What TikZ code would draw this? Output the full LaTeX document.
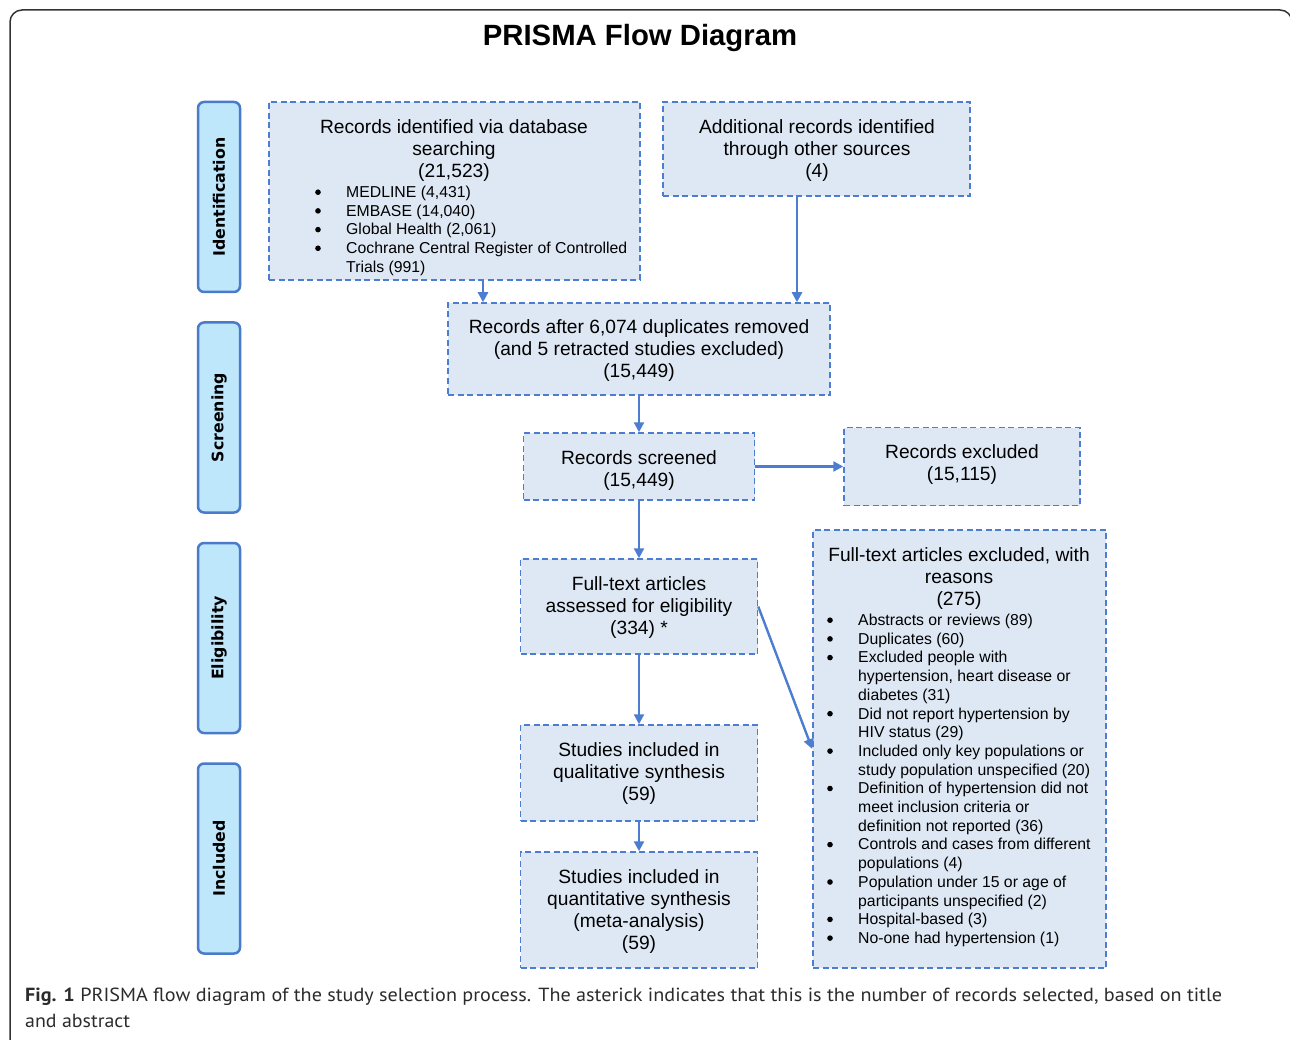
\documentclass[tikz,border=0pt]{standalone}
\usepackage{fontspec}
\usepackage{graphicx}
\setmainfont{Liberation Sans}
\newfontfamily\phasefont{DejaVu Sans}
\newfontfamily\capfont{PT Sans}
\usetikzlibrary{arrows.meta}
\definecolor{boxfill}{HTML}{DEE8F4}
\definecolor{boxdraw}{HTML}{4D7DD0}
\definecolor{phasefill}{HTML}{BEE7FB}
\definecolor{phasedraw}{HTML}{4A7BCB}
\definecolor{framecol}{HTML}{333333}
\definecolor{capcol}{HTML}{2B2B2B}
\newcommand{\mainsize}{\fontsize{19.2}{22}\selectfont}
\newcommand{\listsize}{\fontsize{15.8}{18.7}\selectfont}
\begin{document}
\begin{tikzpicture}[x=1pt,y=-1pt,
  flowbox/.style={draw=boxdraw, fill=boxfill, line width=1.5pt, dash pattern=on 6pt off 3.5pt, inner sep=0pt},
  phasebox/.style={draw=phasedraw, fill=phasefill, line width=2.5pt, rounded corners=6pt, inner sep=0pt, minimum width=42pt, minimum height=190pt},
  phaselabel/.style={rotate=90, font=\phasefont\bfseries\fontsize{15.8}{18}\selectfont, inner sep=0pt},
  maintext/.style={anchor=base, inner sep=0pt, font=\mainsize},
  listtext/.style={anchor=base west, inner sep=0pt, font=\listsize},
  bulletdot/.style={fill=black},
  arr/.style={draw=boxdraw, line width=2.4pt, -{Triangle[length=10pt,width=10pt]}}]
\useasboundingbox (0,0) rectangle (1290,1040);
% outer frame
\draw[framecol, line width=1.5pt, rounded corners=12pt] (10,1043) -- (10,10) -- (1292,10) -- (1292,1043);
% title
\node[anchor=base, inner sep=0pt, font=\bfseries\fontsize{29.3}{32}\selectfont] (title) at (640,46) {PRISMA Flow Diagram};

% phase boxes
\node[phasebox] (p1) at (219,197) {};
\node[phaselabel] (p1t) at (p1) {Identification};
\node[phasebox] (p2) at (219,417.5) {};
\node[phaselabel] (p2t) at (p2) {Screening};
\node[phasebox] (p3) at (219,638) {};
\node[phaselabel] (p3t) at (p3) {Eligibility};
\node[phasebox] (p4) at (219,858.5) {};
\node[phaselabel] (p4t) at (p4) {Included};

% flow boxes
\node[flowbox, minimum width=371pt, minimum height=178pt] (b1) at (454.5,191) {};
\node[flowbox, minimum width=307pt, minimum height=94pt] (b2) at (816.5,149) {};
\node[flowbox, minimum width=382pt, minimum height=92pt] (b3) at (639,349) {};
\node[flowbox, minimum width=231pt, minimum height=67pt] (b4) at (639,466.5) {};
\node[flowbox, minimum width=236pt, minimum height=78pt] (b5) at (962,466.5) {};
\node[flowbox, minimum width=237pt, minimum height=95pt] (b6) at (639,606.5) {};
\node[flowbox, minimum width=237pt, minimum height=96pt] (b7) at (639,773) {};
\node[flowbox, minimum width=237pt, minimum height=116pt] (b8) at (639,910) {};
\node[flowbox, minimum width=293pt, minimum height=438pt] (b9) at (959.5,749) {};

% texts
\node[maintext] (t1) at (454,133.5) {\begin{tabular}[t]{@{}c@{}}Records identified via database\\searching\\(21,523)\end{tabular}};
\node[listtext] (l1) at (346,197.5) {\begin{tabular}[t]{@{}l@{}}
MEDLINE (4,431)\\
EMBASE (14,040)\\
Global Health (2,061)\\
Cochrane Central Register of Controlled\\
Trials (991)\end{tabular}};
\foreach \k in {0,1,2,3} \fill[bulletdot] (318,{197.5-5.3+18.7*\k}) circle (2.8pt);
\node[maintext] (t2) at (817,133.5) {\begin{tabular}[t]{@{}c@{}}Additional records identified\\through other sources\\(4)\end{tabular}};
\node[maintext] (t3) at (639,333.5) {\begin{tabular}[t]{@{}c@{}}Records after 6,074 duplicates removed\\(and 5 retracted studies excluded)\\(15,449)\end{tabular}};
\node[maintext] (t4) at (639,464.5) {\begin{tabular}[t]{@{}c@{}}Records screened\\(15,449)\end{tabular}};
\node[maintext] (t5) at (962,458.5) {\begin{tabular}[t]{@{}c@{}}Records excluded\\(15,115)\end{tabular}};
\node[maintext] (t6) at (639,590.5) {\begin{tabular}[t]{@{}c@{}}Full-text articles\\assessed for eligibility\\(334) *\end{tabular}};
\node[maintext] (t7) at (639,756.5) {\begin{tabular}[t]{@{}c@{}}Studies included in\\qualitative synthesis\\(59)\end{tabular}};
\node[maintext] (t8) at (639,883.5) {\begin{tabular}[t]{@{}c@{}}Studies included in\\quantitative synthesis\\(meta-analysis)\\(59)\end{tabular}};
\node[maintext] (t9) at (959,561.5) {\begin{tabular}[t]{@{}c@{}}Full-text articles excluded, with\\reasons\\(275)\end{tabular}};
\node[listtext] (l9) at (858,625.5) {\begin{tabular}[t]{@{}l@{}}
Abstracts or reviews (89)\\
Duplicates (60)\\
Excluded people with\\
hypertension, heart disease or\\
diabetes (31)\\
Did not report hypertension by\\
HIV status (29)\\
Included only key populations or\\
study population unspecified (20)\\
Definition of hypertension did not\\
meet inclusion criteria or\\
definition not reported (36)\\
Controls and cases from different\\
populations (4)\\
Population under 15 or age of\\
participants unspecified (2)\\
Hospital-based (3)\\
No-one had hypertension (1)\end{tabular}};
\foreach \k in {0,1,2,5,7,9,12,14,16,17} \fill[bulletdot] (830,{625.5-5.3+18.7*\k}) circle (2.8pt);

% connectors
\coordinate (xa) at (483,0);
\coordinate (xb) at (797,0);
\draw[arr] (b1.south -| xa) -- (b3.north -| xa);
\draw[arr] (b2.south -| xb) -- (b3.north -| xb);
\draw[arr] (b3.south) -- (b4.north);
\draw[arr] (b4.east) -- (b5.west);
\draw[arr] (b4.south) -- (b6.north);
\draw[arr] (b6.south) -- (b7.north);
\draw[arr] (b7.south) -- (b8.north);
\draw[arr] (b6.east) -- (b9.west);

% caption
\node[anchor=base west, inner sep=0pt, text=capcol, font=\capfont\fontsize{19}{22}\selectfont] (cap1) at (25,1001.5) {\resizebox{1197pt}{\height}{\textbf{Fig. 1} PRISMA flow diagram of the study selection process. The asterick indicates that this is the number of records selected, based on title}};
\node[anchor=base west, inner sep=0pt, text=capcol, font=\capfont\fontsize{19}{22}\selectfont] (cap2) at (25,1027.5) {\resizebox{105pt}{\height}{and abstract}};
\end{tikzpicture}
\end{document}
